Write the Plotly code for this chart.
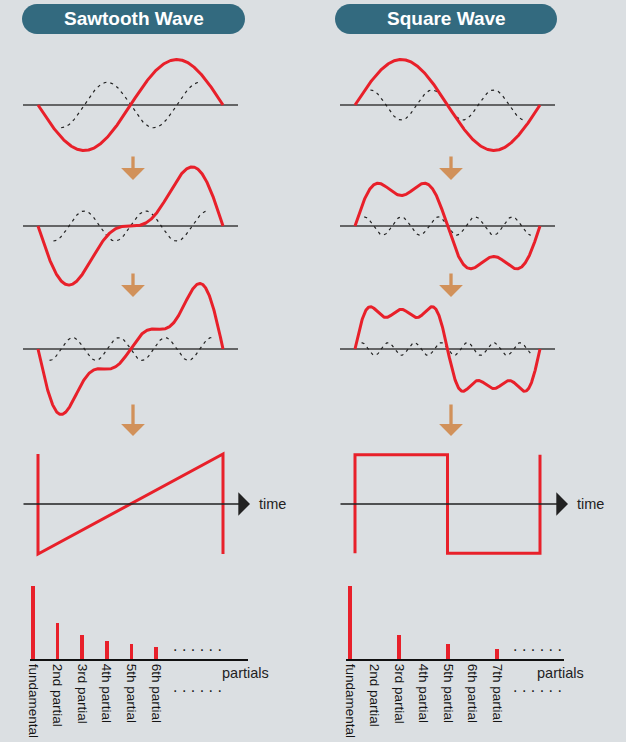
import numpy as np
import plotly.graph_objects as go

# ---- data ----
saw_partials = [1, 2, 3, 4, 5, 6]
saw_amps = [1.0, 0.5, 0.33, 0.25, 0.2, 0.17]
saw_labels = ["fundamental", "2nd partial", "3rd partial", "4th partial", "5th partial", "6th partial"]

sq_partials = [1, 3, 5, 7]
sq_amps = [1.0, 0.33, 0.2, 0.14]
sq_tick_pos = [1, 2, 3, 4, 5, 6, 7]
sq_labels = ["fundamental", "2nd partial", "3rd partial", "4th partial", "5th partial", "6th partial", "7th partial"]

# ideal waveforms (time in periods, level in amplitude units)
ramp_time = [0, 0, 1, 1]
ramp_level = [1.1, -1.1, 1.1, -1.1]
square_time = [0, 0, 0.5, 0.5, 1, 1]
square_level = [-1.08, 1.08, 1.08, -1.08, -1.08, 1.08]

titles = ["Sawtooth Wave", "Square Wave"]

# ---- style ----
W, H = 626, 742
A = 45.5          # px per amplitude unit
SPAN = 185        # px per period
RED = "#e8202a"
TAN = "#d1915a"
PILL = "#336a7f"
BG = "#dbdfe2"
FONT = "Liberation Sans, Arial, sans-serif"

cols = [
    dict(x0=38, dom=(0, 313), sign=-1, partials=saw_partials, amps=saw_amps, pill=(22, 245),
         arrow_x=133, dots_x=197, part_x=220),
    dict(x0=355, dom=(313, 626), sign=1, partials=sq_partials, amps=sq_amps, pill=(335, 557),
         arrow_x=451, dots_x=537, part_x=535),
]
baselines = [105, 226, 349, 504]

fig = go.Figure()
layout = {}
n_ax = [0]


def new_axes(xdom_px, ydom_px, xrange, yrange):
    n_ax[0] += 1
    i = n_ax[0]
    s = "" if i == 1 else str(i)
    layout["xaxis" + s] = dict(domain=[xdom_px[0] / W, xdom_px[1] / W], range=xrange,
                               visible=False, anchor="y" + s, fixedrange=True)
    layout["yaxis" + s] = dict(domain=[1 - ydom_px[1] / H, 1 - ydom_px[0] / H], range=yrange,
                               visible=False, anchor="x" + s, fixedrange=True)
    return "x" + s, "y" + s


t = np.linspace(0, 1, 600)
annotations = []
shapes = []

for c, col in enumerate(cols):
    trange = [(col["dom"][0] - col["x0"]) / SPAN, (col["dom"][1] - col["x0"]) / SPAN]
    base_l, base_r = -15 / SPAN, 200 / SPAN

    # partial sums, rows 1-3
    for k in range(3):
        b = baselines[k]
        xa, ya = new_axes(col["dom"], (b - 75, b + 75), trange, [-75 / A, 75 / A])
        fig.add_trace(go.Scatter(x=[base_l, base_r], y=[0, 0], mode="lines",
                                 line=dict(color="#3c3c3c", width=1.6), xaxis=xa, yaxis=ya, hoverinfo="skip"))
        wave = np.zeros_like(t)
        for n, a in zip(col["partials"][:k + 1], col["amps"][:k + 1]):
            wave += col["sign"] * a * np.sin(2 * np.pi * n * t)
        nn, aa = col["partials"][k + 1], col["amps"][k + 1]
        td = np.linspace(1 / (4 * nn), 1 - 1 / (4 * nn), 400)
        fig.add_trace(go.Scatter(x=td, y=col["sign"] * aa * np.sin(2 * np.pi * nn * td), mode="lines",
                                 line=dict(color="#222", width=1.2, dash="3px,4px"),
                                 xaxis=xa, yaxis=ya, hoverinfo="skip"))
        fig.add_trace(go.Scatter(x=t, y=wave, mode="lines", line=dict(color=RED, width=3),
                                 xaxis=xa, yaxis=ya, hoverinfo="skip"))

    # ideal waveform row
    b = baselines[3]
    xa, ya = new_axes(col["dom"], (b - 75, b + 75), trange, [-75 / A, 75 / A])
    tip = (212 if c == 0 else 213) / SPAN
    annotations.append(dict(x=tip, y=0, ax=-16 / SPAN, ay=0, xref=xa, yref=ya, axref=xa, ayref=ya,
                            showarrow=True, arrowhead=1, arrowsize=2.6, arrowwidth=1.5,
                            arrowcolor="#222", text=""))
    annotations.append(dict(x=tip + 7 / SPAN, y=0, xref=xa, yref=ya, text="time", showarrow=False,
                            xanchor="left", yanchor="middle", font=dict(family=FONT, size=14.5, color="#222")))
    if c == 0:
        fig.add_trace(go.Scatter(x=ramp_time, y=ramp_level, mode="lines", line=dict(color=RED, width=3),
                                 xaxis=xa, yaxis=ya, hoverinfo="skip"))
    else:
        fig.add_trace(go.Scatter(x=square_time, y=square_level, mode="lines", line=dict(color=RED, width=3),
                                 xaxis=xa, yaxis=ya, hoverinfo="skip"))

    # spectrum
    if c == 0:
        sx0, step, sdom = 33, 24.6, (30, 248)
        tick_pos, tick_txt = saw_partials, saw_labels
    else:
        sx0, step, sdom = 350, 24.5, (346, 564)
        tick_pos, tick_txt = sq_tick_pos, sq_labels
    srange = [1 + (sdom[0] - sx0) / step, 1 + (sdom[1] - sx0) / step]
    xa, ya = new_axes(sdom, (579, 659), srange, [0, 80 / 73])
    s = xa[1:]
    layout["xaxis" + s].update(visible=True, showline=True, linecolor="#111", linewidth=2,
                               showgrid=False, zeroline=False, ticks="", tickvals=tick_pos,
                               ticktext=tick_txt, tickangle=90, automargin=False,
                               tickfont=dict(family=FONT, size=13.5, color="#151515"))
    fig.add_trace(go.Bar(x=col["partials"], y=col["amps"], width=0.14, marker=dict(color=RED, line_width=0),
                         xaxis=xa, yaxis=ya, hoverinfo="skip"))
    for yy in (649, 690):
        annotations.append(dict(x=col["dots_x"] / W, y=1 - (yy - 4) / H, xref="paper", yref="paper",
                                text=". . . . . .", showarrow=False, xanchor="center", yanchor="middle",
                                font=dict(family=FONT, size=16, color="#222")))
    annotations.append(dict(x=col["part_x"] / W, y=1 - 673 / H, xref="paper", yref="paper",
                            text="partials", showarrow=False, xanchor="left", yanchor="middle",
                            font=dict(family=FONT, size=14.5, color="#222")))

    # title pill
    x0p, x1p = col["pill"]
    y0p, y1p, r = 4, 34, 15
    kk = 0.5523 * r

    def P(x, y):
        return f"{x / W:.5f},{1 - y / H:.5f}"

    path = (f"M {P(x0p + r, y0p)} L {P(x1p - r, y0p)} "
            f"C {P(x1p - r + kk, y0p)} {P(x1p, y0p + r - kk)} {P(x1p, y0p + r)} "
            f"C {P(x1p, y0p + r + kk)} {P(x1p - r + kk, y1p)} {P(x1p - r, y1p)} "
            f"L {P(x0p + r, y1p)} "
            f"C {P(x0p + r - kk, y1p)} {P(x0p, y1p - r + kk)} {P(x0p, y1p - r)} "
            f"C {P(x0p, y0p + r - kk)} {P(x0p + r - kk, y0p)} {P(x0p + r, y0p)} Z")
    shapes.append(dict(type="path", path=path, xref="paper", yref="paper",
                       fillcolor=PILL, line=dict(width=0), layer="below"))
    annotations.append(dict(x=(x0p + x1p) / 2 / W, y=1 - 19 / H, xref="paper", yref="paper",
                            text="<b>" + titles[c] + "</b>", showarrow=False,
                            xanchor="center", yanchor="middle",
                            font=dict(family=FONT, size=19, color="white")))

    # tan arrows between rows
    for tail, tip_y in [(155, 180), (272, 297), (403, 436)]:
        annotations.append(dict(x=col["arrow_x"] / W, y=1 - tip_y / H, xref="paper", yref="paper",
                                ax=0, ay=-(tip_y - tail), showarrow=True, arrowhead=1, arrowsize=1.2,
                                arrowwidth=3.3, arrowcolor=TAN, text=""))

fig.update_layout(**layout)
fig.update_layout(
    width=W, height=H,
    margin=dict(l=0, r=0, t=0, b=0),
    paper_bgcolor=BG, plot_bgcolor="rgba(0,0,0,0)",
    showlegend=False,
    annotations=annotations,
    shapes=shapes,
    bargap=0,
)

fig.write_html("out.html", config={"displayModeBar": False},
               post_script="document.body.style.margin='0px';")
